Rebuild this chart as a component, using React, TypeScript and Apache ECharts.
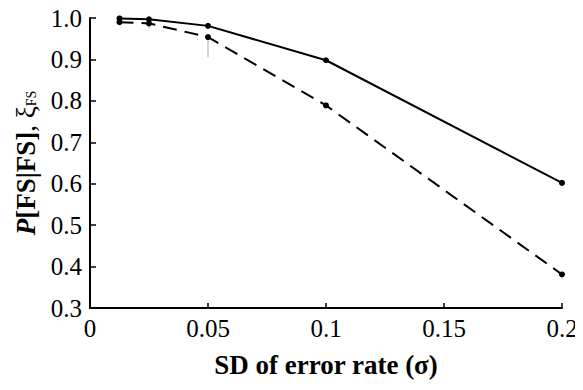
import React, { useEffect, useRef } from "react";
import * as echarts from "echarts";

const sigma = [0.0125, 0.025, 0.05, 0.1, 0.2];
const solidValues = [0.999, 0.997, 0.981, 0.898, 0.602];
const dashedValues = [0.99, 0.987, 0.954, 0.789, 0.381];
const errX = [0.025, 0.05];
const errLow = [0.975, 0.905];
const errHigh = [0.998, 0.955];
const yDecimals = 1;

export default function App() {
  const ref = useRef<HTMLDivElement>(null);
  useEffect(() => {
    if (!ref.current) return;
    const chart = echarts.init(ref.current, undefined, { renderer: "svg" });
    const font = "'Liberation Serif', 'DejaVu Serif', serif";
    chart.setOption({
      animation: false,
      grid: { left: 90, right: 21, top: 18, bottom: 82 },
      xAxis: {
        type: "value",
        min: 0,
        max: 0.2,
        interval: 0.05,
        axisLabel: { color: "#000", fontFamily: font, fontSize: 25 },
        axisLine: { show: true, lineStyle: { color: "#000", width: 2 } },
        axisTick: { show: true, inside: true, length: 5, lineStyle: { color: "#000", width: 1.5 } },
        splitLine: { show: false },
        name: "SD of error rate (σ)",
        nameLocation: "middle",
        nameGap: 43,
        nameTextStyle: { color: "#000", fontFamily: font, fontSize: 27, fontWeight: "bold" },
      },
      yAxis: {
        type: "value",
        min: 0.3,
        max: 1.0,
        interval: 0.1,
        axisLabel: {
          color: "#000",
          fontFamily: font,
          fontSize: 25,
          formatter: (v: number) => Number(v).toFixed(yDecimals),
        },
        axisLine: { show: true, lineStyle: { color: "#000", width: 2 } },
        axisTick: { show: true, inside: true, length: 6, lineStyle: { color: "#000", width: 1.5 } },
        splitLine: { show: false },
        name: "{p|P}{b|[FS|FS]}{n|, ξ}{s|FS}",
        nameLocation: "middle",
        nameRotate: 90,
        nameGap: 50,
        nameTextStyle: {
          color: "#000",
          fontFamily: font,
          rich: {
            p: { fontFamily: font, fontSize: 27, fontWeight: "bold", fontStyle: "italic", color: "#000" },
            b: { fontFamily: font, fontSize: 27, fontWeight: "bold", color: "#000" },
            n: { fontFamily: font, fontSize: 27, color: "#000" },
            s: { fontFamily: font, fontSize: 14, color: "#000", padding: [10, 0, 0, 0] },
          },
        },
      },
      series: [
        {
          type: "custom",
          data: errX.map((x, i) => [x, errLow[i], errHigh[i]]),
          renderItem: (params: any, api: any) => {
            const p1 = api.coord([api.value(0), api.value(1)]);
            const p2 = api.coord([api.value(0), api.value(2)]);
            return {
              type: "line",
              shape: { x1: p1[0], y1: p1[1], x2: p2[0], y2: p2[1] },
              style: { stroke: "#aaaaaa", lineWidth: 1 },
            };
          },
          z: 1,
        },
        {
          type: "line",
          data: sigma.map((x, i) => [x, solidValues[i]]),
          lineStyle: { color: "#000", width: 2, type: "solid" },
          itemStyle: { color: "#000" },
          symbol: "circle",
          symbolSize: 6,
          z: 3,
        },
        {
          type: "line",
          data: sigma.map((x, i) => [x, dashedValues[i]]),
          lineStyle: { color: "#000", width: 2, type: [14, 8] },
          itemStyle: { color: "#000" },
          symbol: "circle",
          symbolSize: 6,
          z: 3,
        },
      ],
    });
    return () => chart.dispose();
  }, []);
  return <div ref={ref} style={{ width: 583, height: 390, margin: -8 }} />;
}
